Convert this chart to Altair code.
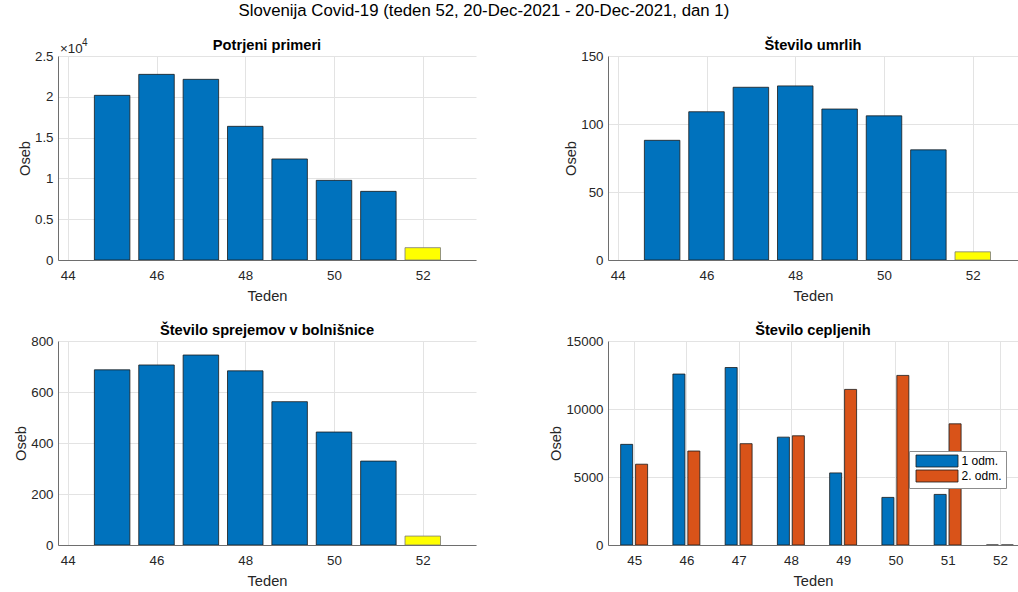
import altair as alt
import pandas as pd

# Weekly figures, weeks 45-52 of 2021
weeks = [45, 46, 47, 48, 49, 50, 51, 52]
confirmed = [20180, 22750, 22140, 16380, 12380, 9760, 8410, 1510]
deaths = [88, 109, 127, 128, 111, 106, 81, 6]
admissions = [687, 706, 745, 683, 562, 443, 329, 35]
dose1 = [7400, 12570, 13050, 7930, 5300, 3500, 3720, 0]
dose2 = [5940, 6910, 7450, 8030, 11440, 12470, 8910, 0]
dose_names = ["1 odm.", "2. odm."]

BLUE = "#0072BD"
ORANGE = "#D95319"
YELLOW = "#FFFF00"
FONT = "Liberation Sans"

W_LEFT = 418
W_RIGHT = 410
H = 204
UNIT = W_LEFT / (53.2 - 43.78)


def week_panel(values, y_values, y_max, width, label_expr=None):
    df = pd.DataFrame({"Teden": weeks, "Oseb": values})
    x_hi = 43.78 + width / UNIT
    y_axis = dict(values=y_values, title="Oseb", format="d")
    if label_expr:
        y_axis["labelExpr"] = label_expr
    return (
        alt.Chart(df)
        .transform_calculate(x0="datum.Teden - 0.4", x1="datum.Teden + 0.4")
        .mark_bar(strokeWidth=0.8, clip=True)
        .encode(
            x=alt.X(
                "x0:Q",
                scale=alt.Scale(domain=[43.78, x_hi], nice=False, zero=False),
                axis=alt.Axis(values=[44, 46, 48, 50, 52], title="Teden"),
            ),
            x2="x1:Q",
            y=alt.Y(
                "Oseb:Q",
                scale=alt.Scale(domain=[0, y_max], nice=False),
                axis=alt.Axis(**y_axis),
            ),
            y2=alt.datum(0),
            fill=alt.condition("datum.Teden == 52", alt.value(YELLOW), alt.value(BLUE)),
            stroke=alt.condition("datum.Teden == 52", alt.value("#7a7a7a"), alt.value("#1a1a1a")),
        )
    )


bars1 = week_panel(confirmed, [0, 5000, 10000, 15000, 20000, 25000], 25000, W_LEFT,
                   label_expr="datum.value / 10000 + ''")
# axis exponent "×10^4" above the y-axis of the first panel
exp_base = alt.Chart(pd.DataFrame({"t": ["×10"]})).mark_text(
    align="left", baseline="alphabetic", fontSize=13.33, font=FONT, color="#262626"
).encode(text="t:N", x=alt.value(2), y=alt.value(-3))
exp_pow = alt.Chart(pd.DataFrame({"t": ["4"]})).mark_text(
    align="left", baseline="alphabetic", fontSize=10, font=FONT, color="#262626"
).encode(text="t:N", x=alt.value(24), y=alt.value(-10.5))
p1 = alt.layer(bars1, exp_base, exp_pow).properties(
    width=W_LEFT, height=H, title=alt.TitleParams("Potrjeni primeri", offset=-15)
)

p2 = week_panel(deaths, [0, 50, 100, 150], 150, W_RIGHT).properties(
    width=W_RIGHT, height=H, title="Število umrlih"
)
p3 = week_panel(admissions, [0, 200, 400, 600, 800], 800, W_LEFT).properties(
    width=W_LEFT, height=H, title="Število sprejemov v bolnišnice"
)

# Vaccinations: grouped bars per week
vacc = pd.DataFrame({
    "Teden": weeks * 2,
    "odm": [dose_names[0]] * len(weeks) + [dose_names[1]] * len(weeks),
    "Oseb": dose1 + dose2,
})
x_hi4 = 44.5 + W_RIGHT / (W_LEFT / 8.0)
p4 = (
    alt.Chart(vacc)
    .transform_calculate(
        off="datum.odm == '1 odm.' ? -0.143 : 0.143",
        x0="datum.Teden + datum.off - 0.115",
        x1="datum.Teden + datum.off + 0.115",
    )
    .mark_bar(stroke="#1a1a1a", strokeWidth=0.8, clip=True)
    .encode(
        x=alt.X(
            "x0:Q",
            scale=alt.Scale(domain=[44.5, x_hi4], nice=False, zero=False),
            axis=alt.Axis(values=weeks, title="Teden"),
        ),
        x2="x1:Q",
        y=alt.Y(
            "Oseb:Q",
            scale=alt.Scale(domain=[0, 15000], nice=False),
            axis=alt.Axis(values=[0, 5000, 10000, 15000], title="Oseb", format="d"),
        ),
        y2=alt.datum(0),
        fill=alt.Fill(
            "odm:N",
            scale=alt.Scale(domain=dose_names, range=[BLUE, ORANGE]),
            legend=alt.Legend(
                title=None,
                orient="none",
                legendX=851,
                legendY=395,
                # wide flat swatch: 42 x 12 px
                symbolType="M-3.5,-1H3.5V1H-3.5Z",
                symbolSize=144,
                symbolOffset=18,
                symbolStrokeColor="#1a1a1a",
                symbolStrokeWidth=0.8,
                labelFontSize=12,
                labelFont=FONT,
                labelColor="#000000",
                labelAlign="left",
                labelOffset=18,
                rowPadding=-2,
                padding=3.5,
                fillColor="white",
                strokeColor="#8c8c8c",
            ),
        ),
    )
    .properties(width=W_RIGHT, height=H, title="Število cepljenih")
)

chart = (
    alt.concat(p1, p2, p3, p4, columns=2, spacing={"row": 81, "column": 132}, bounds="flush")
    .properties(
        title=alt.TitleParams(
            "Slovenija Covid-19 (teden 52, 20-Dec-2021 - 20-Dec-2021, dan 1)",
            fontSize=16.8, font=FONT, fontWeight="normal", color="#000000",
            anchor="middle", dx=-32, offset=18,
        ),
        padding={"left": 13, "top": 2, "right": 0, "bottom": 3},
    )
    .configure_view(stroke=None)
    .configure_title(font=FONT, fontSize=14.67, fontWeight="bold", color="#000000", offset=-3.5)
    .configure_axis(
        labelFont=FONT,
        labelFontSize=13.33,
        labelColor="#262626",
        titleFont=FONT,
        titleFontSize=14.67,
        titleFontWeight="normal",
        titleColor="#262626",
        domainColor="#6e6e6e",
        domainWidth=1,
        gridColor="#e3e3e3",
        gridWidth=1,
        ticks=False,
    )
    .configure_axisX(labelPadding=8, titlePadding=7)
    .configure_axisY(labelPadding=5, titlePadding=2)
)

chart.save("out.html", embed_options={"renderer": "svg", "actions": False})
